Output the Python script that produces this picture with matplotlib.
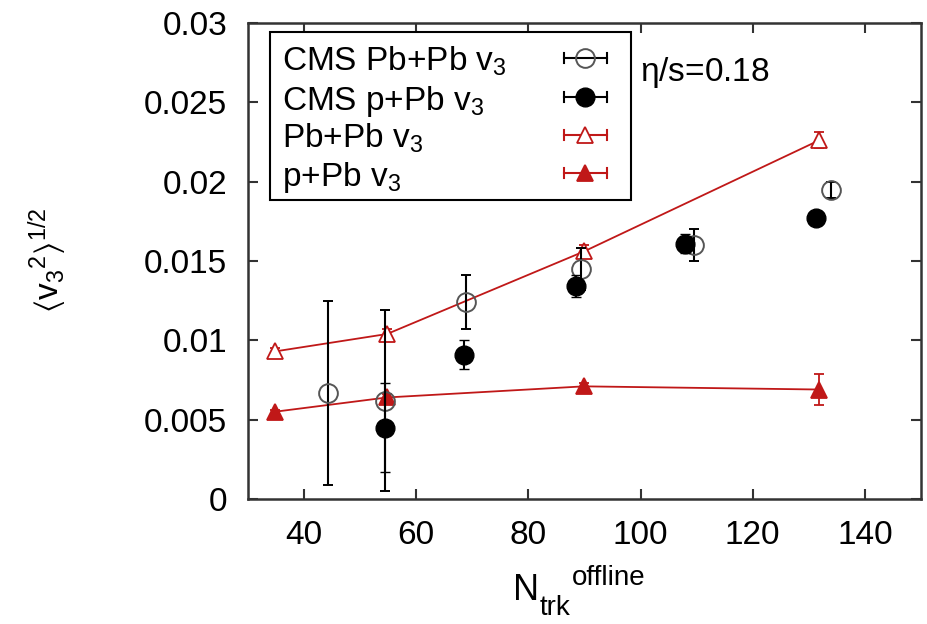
import matplotlib
matplotlib.use("Agg")
import matplotlib.pyplot as plt
from matplotlib.lines import Line2D
from matplotlib.patches import Rectangle

plt.rcParams['font.family'] = ['Liberation Sans', 'DejaVu Sans']
plt.rcParams['mathtext.fontset'] = 'custom'
plt.rcParams['mathtext.rm'] = 'Liberation Sans'
plt.rcParams['mathtext.it'] = 'Liberation Sans'
plt.rcParams['mathtext.default'] = 'regular'
plt.rcParams['font.size'] = 24

# CMS data
cms_pbpb_n = [44.3, 54.5, 68.9, 89.3, 109.5, 134.0]
cms_pbpb_v3 = [0.0067, 0.0062, 0.0124, 0.0145, 0.0160, 0.0195]
cms_pbpb_err = [0.0058, 0.0057, 0.0017, 0.0013, 0.0010, 0.0005]

cms_ppb_n = [54.5, 68.5, 88.4, 108.0, 131.2]
cms_ppb_v3 = [0.0045, 0.0091, 0.0134, 0.0161, 0.0177]
cms_ppb_err = [0.0028, 0.0009, 0.0007, 0.0006, 0.0003]

# hydro results, eta/s = 0.18
model_n = [34.8, 54.8, 89.9, 131.8]
model_pbpb_v3 = [0.0093, 0.0104, 0.0156, 0.0226]
model_pbpb_err = [0.0002, 0.0003, 0.0004, 0.0005]
model_ppb_v3 = [0.0055, 0.0064, 0.0071, 0.0069]
model_ppb_err = [0.0001, 0.0002, 0.0002, 0.00095]

labels = ['CMS Pb+Pb v$_3$', 'CMS p+Pb v$_3$', 'Pb+Pb v$_3$', 'p+Pb v$_3$']

red = '#c01818'
grey = '#555555'
W, H = 928.0, 624.0


def fx(px):
    return px / W


def fy(py):
    return 1 - py / H


fig = plt.figure(figsize=(W / 100, H / 100), dpi=100)
ax = fig.add_axes([fx(248), fy(499), fx(921) - fx(248), fy(23) - fy(499)])

pbpb_style = dict(marker='^', ms=11.5, mfc='white', mec=red, mew=1.3)
ppb_style = dict(marker='^', ms=11.5, mfc=red, mec=red, mew=1.3)
cms_open = dict(marker='o', ms=13.5, mfc='none', mec=grey, mew=1.4)
cms_fill = dict(marker='o', ms=13.5, mfc='black', mec='black', mew=1)

ax.errorbar(model_n, model_pbpb_v3, yerr=model_pbpb_err, color=red, lw=1.3,
            capsize=3.8, elinewidth=1.3, zorder=3, **pbpb_style)
ax.errorbar(model_n, model_ppb_v3, yerr=model_ppb_err, color=red, lw=1.3,
            capsize=3.8, elinewidth=1.3, zorder=3, **ppb_style)
ax.errorbar(cms_pbpb_n, cms_pbpb_v3, yerr=cms_pbpb_err, ls='none', ecolor='black',
            elinewidth=1.5, capsize=3.8, zorder=4, **cms_open)
ax.errorbar(cms_ppb_n, cms_ppb_v3, yerr=cms_ppb_err, ls='none', ecolor='black',
            elinewidth=1.5, capsize=3.8, zorder=5, **cms_fill)

ax.set_xlim(30, 150)
ax.set_ylim(0, 0.03)
ax.set_xticks([40, 60, 80, 100, 120, 140])
ax.set_yticks([0, 0.005, 0.01, 0.015, 0.02, 0.025, 0.03])
ax.set_yticklabels(['0', '0.005', '0.01', '0.015', '0.02', '0.025', '0.03'])
ax.tick_params(direction='in', length=7, width=1.5, top=True, right=True, pad=15, color='#333333')
for s in ax.spines.values():
    s.set_linewidth(1.8)
    s.set_color('#333333')

# axis titles
fig.text(fx(48), fy(260), r'$\langle v_3{}^{2}\rangle^{1/2}$', rotation=90, ha='center', va='center')
n_lab = fig.text(fx(513), fy(600), 'N', fontsize=26, ha='left', va='baseline')
trk = ax.annotate('trk', xy=(1, 0), xycoords=n_lab, xytext=(0.5, -9.5), textcoords='offset points',
                  fontsize=20, ha='left', va='bottom', annotation_clip=False)
ax.annotate('offline', xy=(1, 0), xycoords=(trk, n_lab), xytext=(1, 12), textcoords='offset points',
            fontsize=20, ha='left', va='bottom', annotation_clip=False)

fig.text(fx(640), fy(72), r'$\eta$/s=0.18', ha='left', va='center')

# key box, gnuplot style: label on the left, sample on the right
fig.patches.append(Rectangle((fx(270), fy(200)), fx(631) - fx(270), fy(32) - fy(200),
                             transform=fig.transFigure, fill=False, ec='black', lw=1.5, zorder=6))
key_styles = [('black', cms_open), ('black', cms_fill), (red, pbpb_style), (red, ppb_style)]
row_y = [58, 97, 135, 173]
for lab, (c, st), ry in zip(labels, key_styles, row_y):
    fig.text(fx(282), fy(ry), lab, ha='left', va='center_baseline')
    for xs, ys in [([564, 607], [ry, ry]), ([564, 564], [ry - 5, ry + 5]), ([607, 607], [ry - 5, ry + 5])]:
        fig.add_artist(Line2D([fx(v) for v in xs], [fy(v) for v in ys], color=c, lw=1.5,
                              transform=fig.transFigure))
    fig.add_artist(Line2D([fx(585.5)], [fy(ry)], ls='none', transform=fig.transFigure, **st))

fig.savefig('out.png', dpi=100)
